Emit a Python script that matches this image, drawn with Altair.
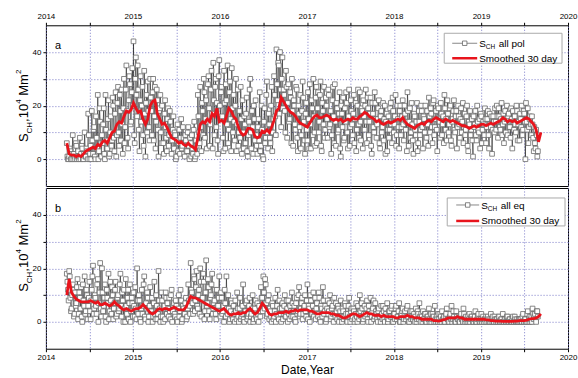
import altair as alt
import pandas as pd
import numpy as np

# ---------------- data ----------------
START_YEAR = 2014.24
PTS_STEP_DAYS = 2.5      # a- and b- lists interleave: a at 0,5,10.. days, b at 2.5,7.5,.. days
SM_STEP_DAYS = 10

pol_values_a = [
    6, 0, 1, 3, 0, 9, 2, 0, 5, 1,
    0, 8, 2, 4, 0, 10, 1, 3, 17, 0,
    5, 18, 2, 12, 0, 8, 24, 3, 14, 1,
    6, 19, 0, 11, 4, 22, 2, 16, 7, 20,
    3, 25, 9, 27, 5, 18, 26, 2, 30, 12,
    35, 8, 22, 28, 14, 34, 44, 6, 38, 16,
    26, 3, 31, 20, 9, 33, 1, 24, 29, 12,
    30, 18, 25, 7, 27, 14, 22, 1, 19, 10,
    20, 6, 17, 12, 3, 19, 9, 14, 2, 11,
    4, 9, 1, 13, 6, 2, 15, 5, 8, 1,
    7, 3, 12, 0, 6, 9, 2, 14, 1, 5,
    24, 10, 27, 3, 18, 30, 8, 22, 14, 31,
    5, 26, 17, 36, 9, 30, 21, 2, 37, 15,
    27, 8, 33, 4, 22, 35, 11, 29, 3, 19,
    24, 7, 30, 13, 5, 18, 27, 2, 10, 16,
    6, 23, 1, 14, 30, 4, 12, 20, 7, 9,
    2, 15, 25, 5, 11, 0, 19, 8, 29, 4,
    13, 6, 27, 10, 31, 16, 41, 22, 35, 40,
    12, 38, 26, 18, 33, 8, 28, 15, 23, 30,
    5, 20, 11, 26, 3, 17, 24, 9, 29, 14,
    2, 21, 7, 15, 28, 4, 19, 30, 10, 23,
    6, 25, 14, 29, 3, 18, 27, 11, 20, 8,
    24, 13, 2, 22, 16, 28, 5, 19, 11, 25,
    1, 17, 23, 8, 14, 21, 4, 26, 12, 18,
    9, 24, 15, 3, 20, 13, 25, 7, 18, 22,
    11, 26, 6, 19, 14, 23, 2, 17, 10, 21,
    8, 15, 22, 4, 18, 12, 7, 20, 14, 3,
    16, 11, 21, 6, 18, 13, 24, 9, 15, 4,
    20, 12, 22, 7, 17, 14, 25, 5, 19, 10,
    13, 2, 16, 9, 21, 6, 14, 11, 18, 4,
    15, 20, 8, 13, 23, 10, 17, 6, 22, 12,
    18, 3, 19, 14, 21, 9, 16, 24, 11, 7,
    17, 13, 20, 5, 15, 22, 10, 18, 12, 16,
    8, 19, 14, 6, 17, 11, 20, 3, 13, 9,
    15, 1, 12, 18, 7, 14, 10, 4, 16, 11,
    13, 19, 6, 15, 9, 17, 12, 2, 16, 10,
    14, 20, 8, 16, 11, 21, 13, 6, 18, 15,
    9, 17, 12, 19, 4, 14, 16, 10, 18, 13,
    7, 15, 20, 11, 17, 0, 14, 19, 12, 16,
    9, 13, 3, 6, 11, 1,
]

pol_values_b = [
    1, 0, 4, 0, 2, 0, 1, 6, 0, 3,
    1, 0, 5, 0, 2, 1, 4, 0, 9, 2,
    0, 7, 11, 1, 16, 4, 0, 19, 6, 9,
    13, 2, 24, 7, 15, 1, 10, 5, 23, 8,
    17, 1, 21, 10, 24, 7, 13, 19, 6, 26,
    18, 4, 31, 13, 25, 20, 9, 30, 24, 35,
    11, 22, 14, 27, 5, 17, 21, 10, 18, 7,
    23, 9, 30, 16, 4, 26, 11, 18, 24, 6,
    13, 2, 22, 8, 15, 5, 18, 10, 7, 16,
    10, 0, 7, 3, 11, 8, 4, 12, 2, 9,
    3, 10, 5, 8, 1, 4, 11, 0, 7, 2,
    16, 6, 12, 21, 9, 25, 15, 4, 28, 19,
    13, 33, 4, 22, 27, 12, 7, 31, 20, 25,
    16, 3, 21, 28, 13, 6, 25, 15, 34, 10,
    14, 20, 3, 26, 10, 8, 15, 22, 4, 13,
    17, 3, 9, 26, 10, 18, 2, 15, 22, 5,
    12, 7, 3, 20, 1, 14, 6, 24, 10, 17,
    8, 20, 3, 15, 24, 9, 28, 36, 17, 26,
    30, 19, 24, 10, 27, 21, 14, 25, 6, 18,
    22, 13, 27, 8, 20, 12, 4, 18, 23, 7,
    17, 11, 25, 4, 13, 22, 9, 16, 5, 27,
    19, 10, 24, 5, 21, 13, 8, 23, 15, 26,
    12, 18, 9, 27, 6, 14, 21, 10, 17, 4,
    20, 12, 7, 19, 25, 10, 16, 5, 22, 13,
    17, 6, 21, 11, 26, 8, 14, 19, 4, 16,
    20, 14, 23, 9, 17, 5, 21, 12, 25, 15,
    13, 19, 6, 16, 10, 21, 15, 2, 17, 11,
    8, 19, 13, 23, 10, 16, 5, 20, 12, 18,
    9, 16, 13, 20, 11, 3, 18, 14, 8, 21,
    7, 17, 11, 14, 3, 18, 9, 20, 12, 16,
    10, 13, 18, 5, 16, 19, 12, 21, 9, 15,
    11, 20, 14, 8, 17, 13, 6, 19, 15, 22,
    10, 19, 7, 14, 18, 11, 16, 4, 20, 13,
    15, 10, 21, 12, 9, 16, 5, 14, 18, 11,
    7, 16, 13, 9, 20, 11, 15, 17, 6, 14,
    9, 15, 12, 18, 4, 13, 16, 11, 14, 19,
    11, 16, 19, 12, 15, 9, 17, 14, 10, 20,
    16, 12, 8, 15, 18, 11, 13, 20, 7, 14,
    17, 12, 9, 18, 14, 21, 11, 6, 15, 13,
    16, 8, 12, 4, 9, 3,
]

pol_smooth = [
    6, 2, 1.5, 1.5, 1, 1.5, 1, 2, 3, 3.5,
    4, 4.5, 4, 5.5, 5, 6.5, 7, 6, 8, 10,
    10.5, 13, 14, 13.5, 16, 18, 17.5, 18.5, 21, 19,
    17.5, 18, 15, 13, 15, 20, 21.5, 22, 17, 15,
    13, 13.5, 12, 10, 8, 7.5, 7, 6, 6.5, 5.5,
    5, 6, 5, 4.5, 3.5, 8, 13, 14, 13.5, 15,
    14, 17, 16, 19, 14, 14.5, 13.5, 16, 19, 18,
    16, 15, 12, 10, 9, 9.5, 11.5, 11.5, 11, 8.5,
    8, 8.5, 10.5, 10, 11, 10, 12, 14.5, 18, 19,
    23, 21.5, 20, 18.5, 17.5, 17, 16, 14.5, 13.5, 13,
    12.5, 12, 13.5, 15, 16, 16.5, 15.5, 15.5, 16, 16.5,
    16, 15, 14.5, 15, 14.5, 15, 14, 14.5, 15, 14.5,
    15.5, 15, 15, 16, 16.5, 17.5, 17, 16, 15.5, 15,
    14, 14.5, 13.5, 13, 13.5, 14, 13.5, 14, 14.5, 15,
    14.5, 15.5, 14, 13, 12.5, 12, 11.5, 12.5, 13, 13.5,
    13, 14, 14.5, 14, 15, 15.5, 15, 14.5, 14, 15,
    14.5, 14, 14.5, 14, 13.5, 13, 12.5, 12.5, 12, 11.5,
    12, 12.5, 12, 12.5, 13, 13, 12.5, 13, 13.5, 13,
    13.5, 14, 14.5, 15.5, 15, 14, 14.5, 14, 14.5, 13.5,
    14, 14.5, 15, 15.5, 15, 14, 13, 11, 6.5, 10,
]

eq_values_a = [
    18, 12, 19, 9, 5, 14, 2, 11, 7, 16,
    3, 9, 13, 0, 8, 17, 4, 10, 6, 15,
    1, 12, 21, 5, 9, 3, 16, 7, 22, 2,
    11, 6, 14, 0, 9, 18, 4, 8, 13, 1,
    7, 15, 3, 10, 5, 18, 2, 8, 12, 0,
    6, 9, 1, 14, 4, 7, 11, 2, 5, 20,
    3, 8, 0, 12, 6, 17, 1, 5, 9, 2,
    13, 4, 0, 7, 3, 10, 1, 19, 5, 2,
    8, 0, 6, 11, 3, 5, 9, 1, 12, 4,
    7, 2, 6, 0, 10, 4, 8, 1, 5, 3,
    9, 2, 14, 6, 22, 11, 3, 16, 8, 19,
    5, 12, 20, 2, 9, 15, 4, 23, 7, 13,
    1, 10, 18, 5, 8, 3, 12, 6, 17, 2,
    9, 4, 0, 7, 17, 3, 5, 1, 8, 2,
    6, 0, 4, 11, 2, 5, 1, 3, 14, 0,
    4, 8, 2, 6, 0, 3, 10, 1, 5, 2,
    7, 0, 4, 13, 9, 17, 5, 14, 2, 8,
    1, 4, 0, 6, 2, 9, 3, 12, 1, 5,
    0, 7, 3, 10, 2, 5, 8, 1, 4, 11,
    2, 6, 0, 9, 4, 13, 3, 7, 1, 5,
    10, 2, 14, 6, 0, 8, 3, 11, 4, 1,
    7, 2, 9, 0, 5, 13, 3, 6, 1, 8,
    4, 10, 2, 6, 0, 3, 7, 1, 5, 2,
    8, 0, 4, 2, 6, 1, 3, 9, 0, 5,
    2, 4, 1, 7, 0, 3, 10, 2, 5, 1,
    6, 3, 8, 0, 4, 9, 2, 5, 1, 7,
    3, 0, 5, 2, 6, 1, 4, 0, 3, 7,
    1, 4, 2, 6, 0, 3, 5, 1, 2, 7,
    0, 3, 5, 1, 4, 2, 6, 0, 3, 1,
    4, 2, 0, 5, 1, 3, 7, 0, 2, 4,
    1, 3, 0, 2, 5, 1, 0, 3, 2, 6,
    0, 1, 3, 0, 2, 4, 1, 0, 2, 5,
    1, 0, 3, 6, 1, 2, 0, 4, 1, 2,
    0, 3, 1, 5, 0, 2, 1, 0, 3, 1,
    2, 0, 1, 4, 0, 2, 1, 0, 3, 1,
    0, 1, 2, 0, 1, 0, 3, 1, 0, 2,
    0, 1, 0, 2, 0, 1, 3, 0, 1, 0,
    2, 0, 1, 0, 1, 0, 2, 0, 1, 0,
    0, 1, 0, 3, 0, 1, 0, 4, 1, 0,
    2, 5, 1, 3, 0, 4,
]

eq_values_b = [
    15, 8, 17, 4, 10, 12, 3, 6, 13, 1,
    11, 5, 2, 14, 6, 3, 12, 1, 9, 4,
    8, 17, 3, 10, 6, 14, 0, 11, 5, 20,
    4, 9, 2, 12, 7, 1, 15, 3, 10, 5,
    12, 2, 9, 4, 14, 6, 11, 0, 5, 16,
    3, 12, 7, 0, 9, 2, 6, 13, 1, 8,
    10, 1, 5, 3, 14, 2, 7, 11, 0, 6,
    4, 9, 2, 15, 1, 6, 3, 8, 0, 11,
    2, 5, 1, 9, 7, 2, 4, 10, 0, 6,
    3, 8, 1, 5, 2, 12, 0, 6, 3, 7,
    1, 5, 8, 3, 12, 7, 17, 4, 13, 6,
    10, 3, 15, 8, 18, 1, 11, 6, 16, 4,
    9, 14, 3, 7, 12, 1, 6, 9, 4, 11,
    3, 6, 12, 2, 5, 10, 0, 4, 7, 1,
    3, 8, 1, 5, 0, 9, 2, 6, 1, 4,
    7, 1, 3, 9, 2, 5, 0, 4, 8, 1,
    3, 6, 2, 9, 4, 11, 16, 7, 3, 10,
    5, 2, 7, 1, 4, 0, 6, 2, 8, 3,
    5, 1, 6, 2, 8, 0, 3, 6, 2, 7,
    4, 1, 7, 3, 10, 2, 5, 9, 3, 6,
    4, 8, 1, 5, 10, 3, 6, 2, 9, 5,
    3, 11, 1, 6, 2, 8, 4, 0, 5, 3,
    7, 1, 5, 3, 9, 2, 4, 6, 0, 4,
    2, 5, 1, 7, 3, 0, 6, 2, 4, 1,
    5, 0, 3, 2, 6, 1, 4, 7, 0, 3,
    2, 5, 1, 6, 3, 0, 4, 8, 2, 4,
    1, 4, 2, 0, 3, 6, 1, 5, 2, 0,
    4, 2, 5, 0, 3, 1, 6, 2, 4, 0,
    2, 4, 0, 3, 1, 5, 2, 0, 4, 2,
    1, 3, 2, 0, 4, 1, 2, 3, 0, 1,
    3, 0, 2, 1, 0, 3, 1, 2, 0, 1,
    2, 0, 1, 3, 0, 1, 2, 0, 3, 1,
    0, 2, 1, 0, 4, 1, 0, 2, 1, 0,
    2, 1, 0, 3, 1, 0, 2, 1, 0, 2,
    1, 0, 2, 0, 1, 3, 0, 1, 0, 2,
    1, 0, 1, 2, 0, 1, 0, 2, 0, 1,
    1, 0, 2, 0, 1, 0, 0, 1, 0, 2,
    0, 1, 0, 0, 2, 0, 1, 0, 0, 1,
    1, 0, 2, 0, 1, 0, 3, 0, 2, 1,
    0, 3, 2, 1, 4, 2,
]

eq_smooth = [
    10, 16, 11, 9.5, 8.5, 8, 7.5, 7.5, 7.5, 7.5,
    8, 7.5, 7, 7.5, 6.5, 6.5, 7, 6.5, 6, 6.5,
    7.5, 6.5, 6, 5, 4.5, 5, 4.5, 4, 4.5, 5,
    5, 5.5, 6.5, 5.5, 4.5, 3.5, 3, 3.5, 4.5, 5,
    4.5, 5, 5, 4.5, 5, 5.5, 5, 4.5, 4.5, 4.5,
    5.5, 7.5, 9.5, 9, 9, 8.5, 8, 7.5, 7, 6.5,
    6, 5.5, 5, 4.5, 4, 4.5, 5, 4, 3, 2.5,
    3, 3, 3.5, 3, 3.5, 3.5, 4.5, 5, 4, 3,
    3.5, 5, 7, 6, 4.5, 3, 2.5, 3, 3, 3.5,
    3.5, 3.5, 4, 3.5, 4, 4, 4.5, 4, 4.5, 4.5,
    4.5, 4.5, 4, 4, 3.5, 3, 3, 3.5, 3.5, 3.5,
    3.5, 3, 3, 2.5, 2.5, 2, 1.5, 1.5, 2, 2.5,
    3, 3, 2.5, 2, 2.5, 3, 3.5, 3, 3, 2.5,
    2.5, 2.5, 2, 2.5, 2, 2, 2, 2, 1.5, 1.5,
    2, 2, 2, 2.5, 2, 2, 1.5, 1.5, 1.5, 1,
    1, 1, 1, 1, 0.5, 0.5, 0.3, 0.5, 0.8, 1,
    1.5, 1.5, 1.5, 1.5, 2, 1.5, 1.5, 1, 1, 1,
    1, 1, 1, 1, 1, 1, 0.8, 0.8, 0.5, 0.5,
    0.3, 0.3, 0.3, 0.2, 0.2, 0.2, 0.2, 0.2, 0.3, 0.3,
    0.5, 0.5, 0.5, 0.7, 1, 1.2, 1.2, 1.5, 2, 3,
]

x_grid = [2014 + 0.5 * k for k in range(13)]
y_grid = [0, 10, 20, 30, 40]

# ---------------- styling ----------------
FONT = "Liberation Sans"
W, H = 523, 161
GRID_COLOR = "#7878c8"
RED = "#e8141c"


def years(n, step):
    return START_YEAR + np.arange(n) * step / 365.25


def interleave(a, b):
    out = []
    for u, w in zip(a, b):
        out.extend([u, w])
    return out


def one():
    return alt.Chart(pd.DataFrame({"k": [0]}))


def panel(values, smooth, label, leg_text, top_axis, leg, title_y0):
    df_p = pd.DataFrame({"t": years(len(values), PTS_STEP_DAYS), "v": values})
    df_s = pd.DataFrame({"t": years(len(smooth), SM_STEP_DAYS), "v": smooth})

    xscale = alt.Scale(domain=[2014, 2020], nice=False, zero=False)
    yscale = alt.Scale(domain=[-10, 50], nice=False, zero=False)
    xaxis = alt.Axis(
        orient="top" if top_axis else "bottom",
        values=x_grid,
        labelExpr="datum.value % 1 == 0 ? format(datum.value, 'd') : ''",
        labelFlush=False,
        grid=True, gridDash=[1, 2], gridColor=GRID_COLOR, gridWidth=1,
        domain=False, tickSize=3, tickColor="black", labelPadding=2,
        labelFontSize=8, labelFont=FONT, labelColor="black",
        title=None if top_axis else "Date,Year",
        titleFont=FONT, titleFontSize=12, titleFontWeight="normal",
        titleColor="black", titlePadding=3,
    )
    yaxis = alt.Axis(
        values=y_grid,
        labelExpr="datum.value % 20 == 0 ? datum.label : ''",
        grid=True, gridDash=[1, 2], gridColor=GRID_COLOR, gridWidth=1,
        domain=False, tickSize=3, tickColor="black", labelPadding=2,
        labelFontSize=8, labelFont=FONT, labelColor="black", title=None,
    )

    base = alt.Chart(df_p).encode(
        x=alt.X("t:Q", scale=xscale, axis=xaxis),
        y=alt.Y("v:Q", scale=yscale, axis=yaxis),
    )
    conn = base.mark_line(color="#1a1a1a", strokeWidth=0.6)
    sq = base.mark_point(shape="square", filled=True, fill="white",
                         stroke="#6a6a6a", strokeWidth=0.8, size=22, opacity=1)
    sm = alt.Chart(df_s).mark_line(color=RED, strokeWidth=2.8).encode(
        x=alt.X("t:Q", scale=xscale), y=alt.Y("v:Q", scale=yscale))

    layers = [conn, sq, sm]

    # panel letter
    layers.append(one().mark_text(text=label, font=FONT, fontSize=11, align="left",
                                  baseline="alphabetic", color="black")
                  .encode(x=alt.value(9), y=alt.value(24)))

    # legend
    bx0, bx1, by0, by1, lx0, lx1, r1, r2, tx = leg
    layers.append(one().mark_rect(fill="white", stroke="#aaaaaa", strokeWidth=1)
                  .encode(x=alt.value(bx0), x2=alt.value(bx1), y=alt.value(by0), y2=alt.value(by1)))
    layers.append(one().mark_rule(color="#888888", strokeWidth=1)
                  .encode(x=alt.value(lx0), x2=alt.value(lx1), y=alt.value(r1)))
    layers.append(one().mark_point(shape="square", filled=True, fill="white", stroke="#666666",
                                   strokeWidth=0.8, size=20, opacity=1)
                  .encode(x=alt.value((lx0 + lx1) / 2), y=alt.value(r1)))
    layers.append(one().mark_rule(color=RED, strokeWidth=2.5)
                  .encode(x=alt.value(lx0), x2=alt.value(lx1), y=alt.value(r2)))
    layers.append(one().mark_text(text="S", font=FONT, fontSize=10, align="left",
                                  baseline="alphabetic", color="black")
                  .encode(x=alt.value(tx), y=alt.value(r1 + 4)))
    layers.append(one().mark_text(text="CH", font=FONT, fontSize=6.5, align="left",
                                  baseline="alphabetic", color="black")
                  .encode(x=alt.value(tx + 6.7), y=alt.value(r1 + 6)))
    layers.append(one().mark_text(text=leg_text, font=FONT, fontSize=10, align="left",
                                  baseline="alphabetic", color="black")
                  .encode(x=alt.value(tx + 19.5), y=alt.value(r1 + 4)))
    layers.append(one().mark_text(text="Smoothed 30 day", font=FONT, fontSize=10, align="left",
                                  baseline="alphabetic", color="black")
                  .encode(x=alt.value(tx), y=alt.value(r2 + 3.5)))

    # y-axis title  S_CH,10^4 Mm^2 (rotated, built from pieces)
    # (text, font size, baseline x, advance before, advance after)
    pieces = [("S", 13, -18, 0, 8.67), ("CH", 8, -14, 0, 11.55), (",10", 13, -18, 0, 18.07),
              ("4", 8, -25, 0, 4.45), ("Mm", 13, -18, 3.6, 21.66), ("2", 8, -25, 0.3, 4.45)]
    yy = title_y0
    for txt, fs, xb, pre, wdt in pieces:
        yy -= pre
        layers.append(one().mark_text(text=txt, font=FONT, fontSize=fs, angle=270,
                                      align="left", baseline="alphabetic", color="black")
                      .encode(x=alt.value(xb), y=alt.value(yy)))
        yy -= wdt

    return alt.layer(*layers).properties(width=W, height=H)


pol_values = interleave(pol_values_a, pol_values_b)
eq_values = interleave(eq_values_a, eq_values_b)

top = panel(pol_values, pol_smooth, "a", "all pol", True,
            (399, 517, 8, 38, 407, 432, 18, 33, 434), 117)
bottom = panel(eq_values, eq_smooth, "b", "all eq", False,
               (402, 520, 10, 38, 411, 434, 17, 33, 436), 104)

chart = alt.vconcat(top, bottom, spacing=0).properties(
    padding={"left": 14, "top": 11, "right": 0, "bottom": 0}
).configure_view(stroke="black", strokeWidth=1).configure_concat(spacing=0)

chart.save("out.html", embed_options={"renderer": "svg", "actions": False})
